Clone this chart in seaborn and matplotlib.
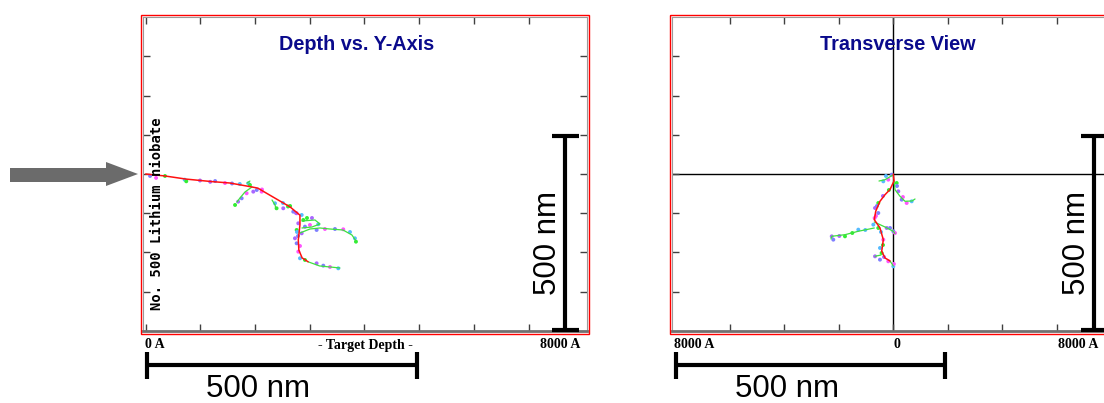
import numpy as np
import pandas as pd
import matplotlib
matplotlib.use("Agg")
import matplotlib.pyplot as plt
from matplotlib.patches import Polygon, Rectangle
import seaborn as sns

sns.set_theme(style="white")
plt.rcParams['font.family'] = ['Liberation Sans', 'DejaVu Sans']

# ---------------- data (Angstrom) ----------------
# Depth vs. Y-Axis panel
ion_depth_x = [0, 350, 740, 1180, 1540, 1900, 2050, 2270, 2640, 2820, 2820, 2790, 2800, 2860, 2970]
ion_depth_y = [0, -50, -130, -190, -230, -320, -360, -540, -840, -1050, -1300, -1680, -1940, -2140, -2240]

rec_depth = {
    "tail":   ([2970, 3180, 3370, 3550], [-2240, -2346, -2372, -2397]),
    "left":   ([1943, 1815, 1724, 1669], [-332, -459, -612, -714]),
    "loop":   ([1852, 1906], [-230, -179]),
    "arc":    ([2820, 3003, 3186, 3369, 3607, 3771, 3844], [-1505, -1403, -1377, -1403, -1428, -1556, -1709]),
    "hook":   ([2857, 3095, 3186, 3040, 2857], [-1199, -1173, -1275, -1352, -1377]),
    "blob":   ([2310, 2365, 2383], [-663, -791, -893]),
}

dots_depth_x = [80, 190, 713, 742, 1180, 1270, 1450, 1720, 1634, 1690, 1755, 1846, 1876, 1906, 1967,
                2030, 2120, 2364, 2393, 2515, 2698, 2760, 2852, 2882, 2790, 2912, 3003, 3155, 2760,
                2852, 3125, 3612, 3825, 3844, 2729, 2760, 2790, 2821, 2912, 3125, 3247, 3369, 3521,
                353, 993, 1578, 2126, 2510, 2602, 2748, 2785, 2821, 2766, 2949, 3040, 3460, 3277, 3735, 2640]
dots_depth_y = [-50, -100, -145, -186, -200, -180, -230, -255, -790, -706, -620, -492, -237, -280, -450,
                -408, -451, -747, -875, -875, -961, -1003, -1045, -1173, -1258, -1343, -1300, -1283, -1428,
                -1513, -1428, -1411, -1640, -1726, -1640, -1768, -1981, -2150, -2193, -2278, -2338, -2372, -2406,
                -51, -166, -242, -395, -740, -829, -995, -1581, -1836, -1479, -1122, -1122, -1403, -1403, -1480, -816]

# Transverse View panel
ion_trans_x = [0, 13, -60, -152, -244, -322, -348, -244, -183, -212, -152, -60]
ion_trans_y = [0, -179, -395, -528, -696, -951, -1165, -1377, -1675, -1971, -2142, -2218]

rec_trans = {
    "tail":   ([-60, 0], [-2218, -2346]),
    "right":  ([13, 31, 123, 214, 343, 398], [-179, -400, -569, -696, -688, -638]),
    "left":   ([-348, -641, -885, -1128, -1141], [-1377, -1461, -1548, -1589, -1658]),
    "mid":    ([-348, -152, 0, 31], [-1224, -1352, -1461, -1517]),
    "top":    ([-5, -152, -262], [-25, -145, -179]),
    "low":    ([-225, -335], [-2066, -2099]),
}

dots_trans_x = [-29, -92, -183, 62, 92, 154, 245, 337, -275, -335, -275, -342, -366, -275, -121, 0, 31,
                -641, -885, -1128, -1099, -183, -244, -214, -335, -244, -92, 0,
                -81, -190, -300, -318, -226, -189, -170, 68, 176, -513, -751, -989, -60, 11, -135]
dots_trans_y = [-17, -145, -187, -230, -442, -655, -740, -697, -740, -867, -995, -1122, -1292, -1377, -1377,
                -1462, -1505, -1419, -1590, -1590, -1675, -1675, -1887, -2015, -2100, -2185, -2227, -2355,
                -408, -561, -816, -1071, -1479, -1811, -2117, -306, -587, -1428, -1505, -1581, -1377, -2295, -51]

dot_colors = ["#7f7fff", "#ff55ff", "#55bbff", "#33ee33", "#aa66ff"]

depth_ticks = [0, 1000, 2000, 3000, 4000, 5000, 6000, 7000]
trans_ticks = [-3000, -2000, -1000, 0, 1000, 2000, 3000]
vert_ticks = [-3000, -2000, -1000, 0, 1000, 2000, 3000]

# ---------------- figure ----------------
W, H = 1104, 403
fig = plt.figure(figsize=(W / 100, H / 100), dpi=100)
fig.patch.set_facecolor("white")


def px_axes(x0, y0, x1, y1):
    return fig.add_axes([x0 / W, 1 - y1 / H, (x1 - x0) / W, (y1 - y0) / H])


def style_panel(ax, xticks):
    ax.set_facecolor("white")
    ax.set_xticks(xticks)
    ax.set_yticks(vert_ticks)
    ax.tick_params(direction="in", length=5, width=1, color="#404040",
                   top=True, bottom=True, left=True, right=True,
                   labelbottom=False, labelleft=False, labeltop=False, labelright=False)
    for s in ["top", "left", "right"]:
        ax.spines[s].set_color("#9a9a9a")
        ax.spines[s].set_linewidth(0.8)
    ax.spines["bottom"].set_color("#707070")
    ax.spines["bottom"].set_linewidth(2)
    ax.set_xlabel("")
    ax.set_ylabel("")
    ax.grid(False)


def draw_traj(ax, ion_x, ion_y, rec, dx, dy):
    rows = []
    for name, (xs, ys) in rec.items():
        for x, y in zip(xs, ys):
            rows.append((name, x, y))
    df_rec = pd.DataFrame(rows, columns=["branch", "x", "y"])
    sns.lineplot(data=df_rec, x="x", y="y", units="branch", estimator=None, sort=False,
                 color="#3ee03e", lw=0.9, ax=ax)
    df_ion = pd.DataFrame({"x": ion_x, "y": ion_y})
    sns.lineplot(data=df_ion, x="x", y="y", estimator=None, sort=False, color="#ff1010", lw=1.1, ax=ax)
    cols = [dot_colors[i % len(dot_colors)] for i in range(len(dx))]
    df_d = pd.DataFrame({"x": dx, "y": dy, "c": cols})
    sns.scatterplot(data=df_d, x="x", y="y", hue="c", palette={c: c for c in dot_colors},
                    s=8, linewidth=0, legend=False, ax=ax)


# Left panel
axL = px_axes(143, 17, 587, 331)
draw_traj(axL, ion_depth_x, ion_depth_y, rec_depth, dots_depth_x, dots_depth_y)
axL.set_xlim(-49, 8068)
axL.set_ylim(-4005, 4005)
style_panel(axL, depth_ticks)

# Right panel
axR = px_axes(672, 17, 1114.6, 331)
axR.axhline(0, color="black", lw=1, zorder=0)
axR.axvline(0, color="black", lw=1, zorder=0)
draw_traj(axR, ion_trans_x, ion_trans_y, rec_trans, dots_trans_x, dots_trans_y)
axR.set_xlim(-4054, 4054)
axR.set_ylim(-4005, 4005)
style_panel(axR, trans_ticks)

# ---------------- overlay (pixel coordinates) ----------------
ov = fig.add_axes([0, 0, 1, 1], zorder=10)
ov.set_xlim(0, W)
ov.set_ylim(H, 0)
ov.axis("off")
ov.patch.set_alpha(0)

# red outer frames
ov.add_patch(Rectangle((140.5, 14.5), 448, 319, fill=False, ec="#ff0000", lw=1.0))
ov.add_patch(Rectangle((669.5, 14.5), 450, 319, fill=False, ec="#ff0000", lw=1.0))

# titles
title_kw = dict(color="#0a0a8c", fontsize=14.3, fontweight="bold", ha="center", va="center",
                family=["Liberation Sans", "DejaVu Sans"])
ov.text(356.7, 45, "Depth vs. Y-Axis", **title_kw)
ov.text(897.7, 45, "Transverse View", **title_kw)

# vertical target text
ov.text(157, 214, "No. 500 Lithium niobate", rotation=90, ha="center", va="center",
        fontsize=10, fontweight="bold", family=["DejaVu Sans Mono"], color="black")

# axis labels
lab_kw = dict(fontsize=10, fontweight="bold", va="center", color="black",
              family=["Liberation Serif", "DejaVu Serif"])
ov.text(145, 345, "0 A", ha="left", **lab_kw)
ov.text(413, 345, "- Target Depth -", ha="right", **lab_kw)
ov.text(580, 345, "8000 A", ha="right", **lab_kw)
ov.text(674, 345, "8000 A", ha="left", **lab_kw)
ov.text(896.7, 345, "0", ha="center", **lab_kw)
ov.text(1057.5, 345, "8000 A", ha="left", **lab_kw)

# scale bars
bar_kw = dict(color="black", lw=3, solid_capstyle="butt")
for (x0, x1, tx) in [(145, 418, 258), (674, 946, 787)]:
    ov.plot([x0, x1], [365, 365], **bar_kw)
    ov.plot([x0 + 1.5, x0 + 1.5], [352, 379], **bar_kw)
    ov.plot([x1 - 1.5, x1 - 1.5], [352, 379], **bar_kw)
    ov.text(tx, 389, "500 nm", ha="center", va="center", fontsize=22.5, color="black",
            family=["Liberation Sans", "DejaVu Sans"])
for (vx, tx) in [(565, 547.5), (1094.3, 1076.7)]:
    ov.plot([vx, vx], [134, 331], **bar_kw)
    ov.plot([vx - 13.5, vx + 13.5], [135.5, 135.5], **bar_kw)
    ov.plot([vx - 13.5, vx + 13.5], [329.5, 329.5], **bar_kw)
    ov.text(tx, 243, "500 nm", ha="center", va="center", rotation=90, fontsize=22.5, color="black",
            family=["Liberation Sans", "DejaVu Sans"])

# arrow
arrow = Polygon([(10, 168), (106, 168), (106, 162), (138, 174), (106, 186), (106, 182), (10, 182)],
                closed=True, fc="#6b6b6b", ec="none")
ov.add_patch(arrow)

fig.savefig("out.png", dpi=100, facecolor="white")
